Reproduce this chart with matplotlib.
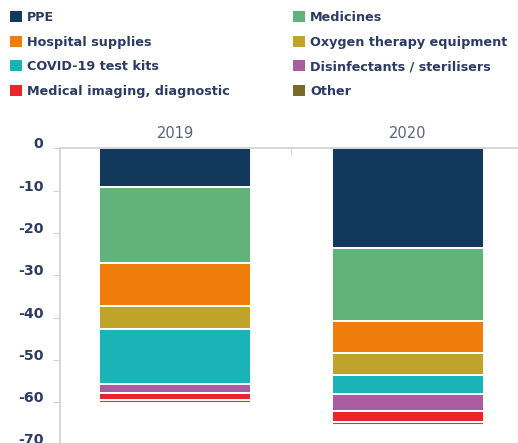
import matplotlib
matplotlib.use("Agg")
import matplotlib.pyplot as plt
from matplotlib.patches import Patch
import numpy as np

years = ["2019", "2020"]
categories = ["PPE", "Medicines", "Hospital supplies", "Oxygen therapy equipment",
              "COVID-19 test kits", "Disinfectants / sterilisers",
              "Medical imaging, diagnostic", "Other"]
values_2019 = [9.2, 17.8, 10.2, 5.6, 12.9, 2.2, 1.7, 0.7]
values_2020 = [23.5, 17.2, 7.7, 5.2, 4.4, 4.1, 2.7, 0.6]
colors = ["#12395b", "#62b27b", "#ef7d0c", "#c0a32a",
          "#1ab3b8", "#a95c9f", "#e8262b", "#7a6a2a"]
yticks = [0, -10, -20, -30, -40, -50, -60, -70]

text_col = "#2b3b62"
spine_col = "#d0d0d0"

fig = plt.figure(figsize=(5.18, 4.43), dpi=100)
W, H = 518, 443
top_px, bot_px = 148.3, 444.5
left_px, right_px = 60, 518
ax = fig.add_axes([left_px / W, 1 - bot_px / H, (right_px - left_px) / W, (bot_px - top_px) / H])

data = np.array([values_2019, values_2020])
x = np.arange(len(years))
bottom = np.zeros(len(years))
for i, cat in enumerate(categories):
    vals = -data[:, i]
    ax.bar(x, vals, bottom=bottom, width=0.654, color=colors[i],
           edgecolor="white", linewidth=1.4, label=cat)
    bottom = bottom + vals

ax.set_xlim(-0.495, 1.475)
ax.set_ylim(-70, 0)
ax.set_yticks(yticks)
ax.set_yticklabels([str(t) for t in yticks])
for lab in ax.get_yticklabels():
    lab.set_fontweight("bold")
    lab.set_color(text_col)
    lab.set_fontsize(10.2)
    lab.set_verticalalignment("baseline")
ax.tick_params(axis="y", length=5, color=spine_col, pad=7)

ax.xaxis.tick_top()
ax.set_xticks(x)
ax.set_xticklabels(years, fontsize=10.5, color="#5a6478")
ax.tick_params(axis="x", which="major", length=0, pad=5)
ax.set_xticks([0.5], minor=True)
ax.tick_params(axis="x", which="minor", direction="in", length=5, color=spine_col, top=True, bottom=False)

for s in ["right", "bottom"]:
    ax.spines[s].set_visible(False)
for s in ["top", "left"]:
    ax.spines[s].set_color(spine_col)
    ax.spines[s].set_linewidth(1.2)

handles = [Patch(facecolor=c, edgecolor="none") for c in colors]
col1 = [0, 2, 4, 6]
col2 = [1, 3, 5, 7]
for idxs, xa in [(col1, 0.003), (col2, 0.549)]:
    leg = fig.legend([handles[i] for i in idxs], [categories[i] for i in idxs],
                     loc="upper left", bbox_to_anchor=(xa, 0.995), frameon=False,
                     fontsize=9.2, handlelength=0.9, handleheight=0.9,
                     handletextpad=0.42, labelspacing=0.9, borderaxespad=0.3)
    for t in leg.get_texts():
        t.set_color(text_col)
        t.set_fontweight("semibold")

fig.savefig("out.png", dpi=100)
